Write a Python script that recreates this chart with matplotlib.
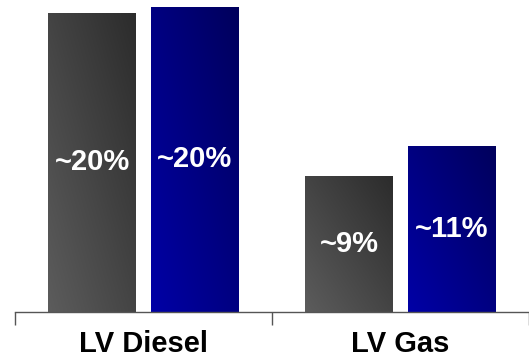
import numpy as np
import matplotlib.pyplot as plt
from matplotlib.colors import LinearSegmentedColormap

categories = ["LV Diesel", "LV Gas"]
series_a = [19.8, 9.0]    # gray bars
series_b = [20.2, 11.0]   # blue bars

gray_cmap = LinearSegmentedColormap.from_list("g", ["#5c5c5c", "#2c2c2c"])
blue_cmap = LinearSegmentedColormap.from_list("b", ["#0000a6", "#00005c"])

fig = plt.figure(figsize=(5.29, 3.59), dpi=100)
ax = fig.add_axes([15 / 529, 47 / 359, 514 / 529, 312 / 359])

x = np.arange(len(categories))
w = 0.34
off = 0.2

# diagonal gradient: lighter bottom-left, darker top-right
u, v = np.meshgrid(np.linspace(0, 1, 64), np.linspace(0, 1, 64))
grad = (u + v) / 2


def gradient_bars(xs, vals, cmap):
    bars = ax.bar(xs, vals, width=w, color="none", edgecolor="none")
    for b in bars:
        x0, y0 = b.get_x(), b.get_y()
        im = ax.imshow(grad, cmap=cmap, origin="lower", aspect="auto",
                       extent=[x0, x0 + b.get_width(), y0, y0 + b.get_height()],
                       interpolation="bilinear", zorder=2)
        im.set_clip_path(b)
    for xi, val in zip(xs, vals):
        ax.text(xi, val / 2, f"~{round(val)}%", color="white", fontsize=21,
                fontweight="bold", ha="center", va="center",
                family="Liberation Sans", zorder=3)


gradient_bars(x - off, series_a, gray_cmap)
gradient_bars(x + off, series_b, blue_cmap)

ax.set_xlim(-0.5, 1.469)
ax.set_ylim(0, 20.66)

for s in ["top", "right", "left"]:
    ax.spines[s].set_visible(False)
ax.spines["bottom"].set_color("#555555")
ax.spines["bottom"].set_linewidth(1.0)
ax.set_yticks([])
ax.set_xticks([-0.5, 0.5, 1.5])
ax.set_xticklabels([])
ax.tick_params(axis="x", length=9, width=1.0, color="#555555", direction="out")

# category names sit flush with the bottom edge of the figure
for xi, cat in zip(x, categories):
    ax.text(xi, -47 / 312 + 0.002, cat, transform=ax.get_xaxis_transform(),
            ha="center", va="bottom", fontsize=21, fontweight="bold",
            family="Liberation Sans")

fig.savefig("out.png", dpi=100)
